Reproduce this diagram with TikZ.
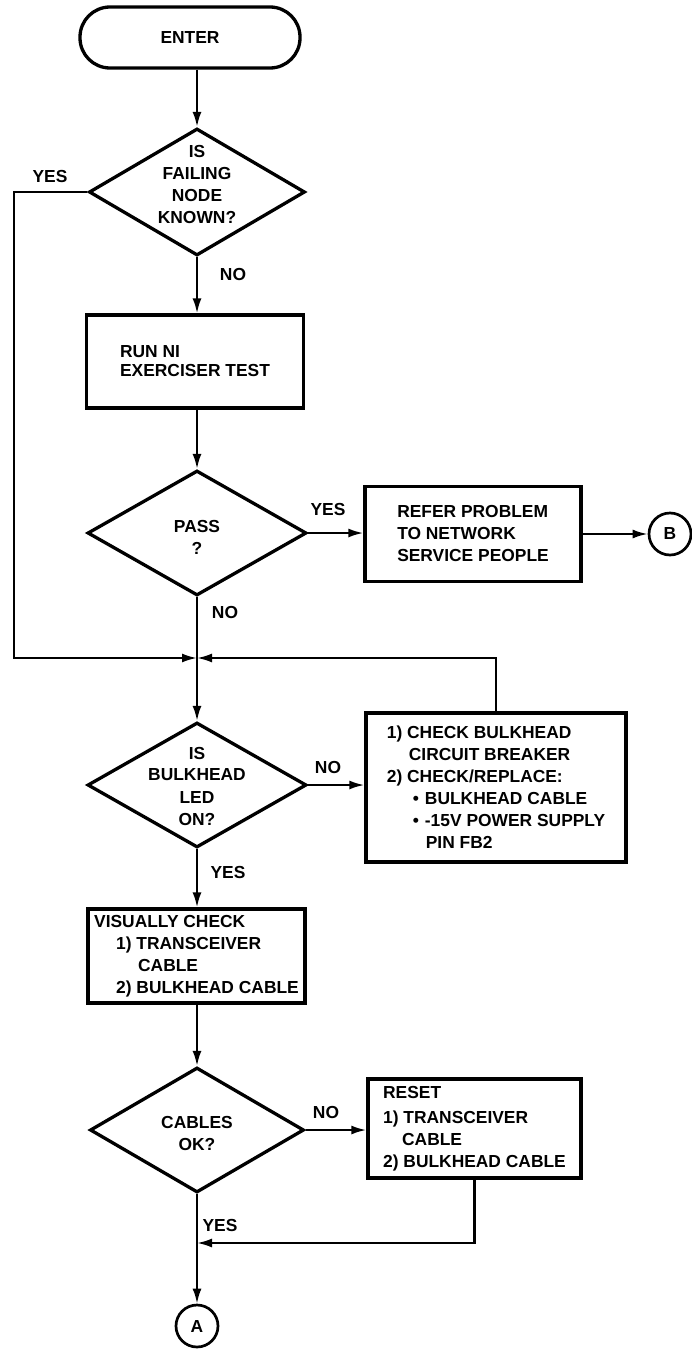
\documentclass[tikz,border=0pt]{standalone}
\usepackage{fontspec}
\setmainfont{Liberation Sans}
\usetikzlibrary{shapes.geometric,arrows.meta,calc}
\begin{document}
\begin{tikzpicture}[x=1pt,y=-1pt,
  font=\fontsize{17.4}{22}\selectfont\bfseries,
  box/.style={draw,line width=3.3pt,rectangle,align=left,inner sep=0pt},
  term/.style={draw,line width=3.3pt,rectangle,rounded corners=30pt,inner sep=0pt,minimum width=220pt,minimum height=61pt},
  dia/.style={draw,diamond,line width=3.3pt,inner sep=0pt},
  conn/.style={line width=2.2pt},
  arr/.style={conn,-{Latex[length=15pt,width=9pt]}},
  lbl/.style={inner sep=0pt},
  txt/.style={inner sep=0pt,align=center},
  conncirc/.style={draw,circle,line width=2.7pt,inner sep=0pt,minimum size=42pt}]
\useasboundingbox (0,0) rectangle (692,1349);

% nodes
\node[term] (enter) at (190,37.5) {ENTER};

\node[dia,minimum width=216pt,minimum height=127pt] (d1) at (197,192) {};
\node[txt] (d1t) at (197,185) {IS\\FAILING\\NODE\\KNOWN?};

\node[box,minimum width=217pt,minimum height=93pt] (run) at (195,361.5) {RUN NI\\[-3pt]EXERCISER TEST};

\node[dia,minimum width=219pt,minimum height=125pt] (d2) at (197,533) {};
\node[txt] (d2t) at (197,537) {PASS\\?};

\node[box,minimum width=216pt,minimum height=95pt] (refer) at (473,534) {REFER PROBLEM\\TO NETWORK\\SERVICE PEOPLE};
\node[conncirc] (B) at (670,534) {B};

\coordinate (J) at (197,658);

\node[dia,minimum width=219pt,minimum height=125pt] (d3) at (197,785) {};
\node[txt] (d3t) at (197,786) {IS\\BULKHEAD\\LED\\ON?};

\node[box,minimum width=260pt,minimum height=149pt] (check) at (496,787.5) {1) CHECK BULKHEAD\\
\hspace*{22pt}CIRCUIT BREAKER\\
2) CHECK/REPLACE:\\
\hspace*{26pt}\textbullet\hspace*{6pt}BULKHEAD CABLE\\
\hspace*{26pt}\textbullet\hspace*{6pt}-15V POWER SUPPLY\\
\hspace*{39pt}PIN FB2};

\node[box,minimum width=217pt,minimum height=94pt] (vis) at (196.5,956) {VISUALLY CHECK\\
\hspace*{22pt}1) TRANSCEIVER\\
\hspace*{44pt}CABLE\\
\hspace*{22pt}2) BULKHEAD CABLE};

\node[dia,minimum width=214pt,minimum height=125pt] (d4) at (197,1130) {};
\node[txt] (d4t) at (197,1133) {CABLES\\OK?};

\node[box,minimum width=213pt,minimum height=99pt] (reset) at (474.5,1128.5) {RESET\\[3pt]
1) TRANSCEIVER\\
\hspace*{19pt}CABLE\\
2) BULKHEAD CABLE};

\node[conncirc] (A) at (197,1326) {A};
\coordinate (K) at (197,1243);

% labels
\node[lbl] (l1) at (50,177) {YES};
\node[lbl] (l2) at (233,275) {NO};
\node[lbl] (l3) at (328,510) {YES};
\node[lbl] (l4) at (225,613) {NO};
\node[lbl] (l5) at (328,768) {NO};
\node[lbl] (l6) at (228,872) {YES};
\node[lbl] (l7) at (326,1112) {NO};
\node[lbl] (l8) at (220,1225) {YES};

% connectors
\draw[arr] (d1.north |- enter.south) -- (d1.north);
\draw[arr] (d1.west) -- (14,192) -- (14,658) -- (J);
\draw[arr] (d1.south) -- (d1.south |- run.north);
\draw[arr] (d2.north |- run.south) -- (d2.north);
\draw[arr] (d2.east) -- (d2.east -| refer.west);
\draw[arr] (refer.east) -- (refer.east -| B.west);
\draw[conn] (d2.south) -- (J);
\draw[arr] (J) -- (d3.north);
\draw[arr] (check.north) -- (check.north |- J) -- (J);
\draw[arr] (d3.east) -- (d3.east -| check.west);
\draw[arr] (d3.south) -- (d3.south |- vis.north);
\draw[arr] (d4.north |- vis.south) -- (d4.north);
\draw[arr] (d4.east) -- (d4.east -| reset.west);
\draw[arr] (reset.south) -- (reset.south |- K) -- (K);
\draw[arr] (d4.south) -- (A.north);
\end{tikzpicture}
\end{document}
